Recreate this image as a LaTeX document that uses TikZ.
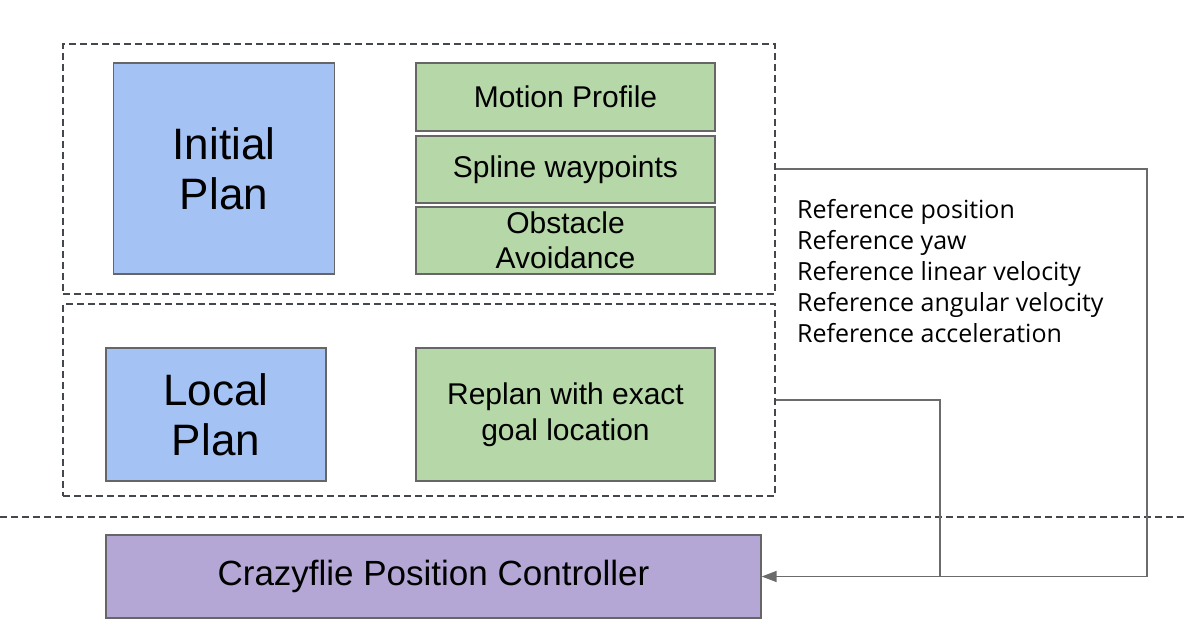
\documentclass[tikz,border=0pt]{standalone}
\usepackage{fontspec}
\setmainfont{Liberation Sans}
\newfontfamily\listfont{Open Sans}
\usetikzlibrary{arrows.meta}
\definecolor{bluefill}{HTML}{A4C2F4}
\definecolor{greenfill}{HTML}{B6D7A8}
\definecolor{purplefill}{HTML}{B4A7D6}
\definecolor{boxline}{HTML}{666666}
\definecolor{dashline}{HTML}{44474C}
\definecolor{connline}{HTML}{6B6B6B}
\tikzset{
  box/.style={draw=boxline, line width=1.3pt, inner sep=0pt, align=center, text=black},
  bluebox/.style={box, fill=bluefill, font=\fontsize{44}{50}\selectfont},
  greenbox/.style={box, fill=greenfill, font=\fontsize{30}{35}\selectfont},
  purplebox/.style={box, fill=purplefill, font=\fontsize{35}{40}\selectfont},
  groupbox/.style={draw=dashline, line width=1.3pt, dash pattern=on 7pt off 4pt, inner sep=0pt},
  conn/.style={draw=connline, line width=1.4pt},
}
\begin{document}
\begin{tikzpicture}[x=1pt,y=-1pt]
\useasboundingbox (0,0) rectangle (1184,631);
% group boxes
\node[groupbox, minimum width=712pt, minimum height=250pt] (box1) at (419,169) {};
\node[groupbox, minimum width=712pt, minimum height=192pt] (box2) at (419,400) {};
% separator
\coordinate (sepL) at (0,517);
\coordinate (sepR) at (1184,517);
\draw[groupbox] (sepL) -- (sepR);
% nodes
\node[bluebox, minimum width=221pt, minimum height=211pt] (init) at (224,168.5) {Initial\\Plan};
\node[greenbox, minimum width=299pt, minimum height=68pt] (motion) at (565.5,97) {Motion Profile};
\node[greenbox, minimum width=299pt, minimum height=67pt] (spline) at (565.5,169.5) {Spline waypoints};
\node[greenbox, minimum width=299pt, minimum height=67pt] (obst) at (565.5,240.5) {Obstacle\\Avoidance};
\node[bluebox, minimum width=220pt, minimum height=133pt] (local) at (216,414.5) {Local\\Plan};
\node[greenbox, minimum width=299pt, minimum height=133pt, font=\fontsize{30}{36}\selectfont] (replan) at (565.5,414.5) {Replan with exact\\goal location};
\node[purplebox, minimum width=655pt, minimum height=83pt] (cf) at (433.5,576.5) {Crazyflie Position Controller};
% reference list
\node[anchor=west, inner sep=0pt, align=left, font=\listfont\fontsize{25}{31.2}\selectfont] (list) at (797,271)
  {Reference position\\Reference yaw\\Reference linear velocity\\Reference angular velocity\\Reference acceleration};
% connectors
\coordinate (rc) at (1147,576.5);
\coordinate (j) at (940,576.5);
\draw[conn, -{Triangle[length=15pt,width=11pt]}] (box1.east) -| (rc) -- (cf.east);
\draw[conn] (box2.east) -| (j);
\end{tikzpicture}
\end{document}
